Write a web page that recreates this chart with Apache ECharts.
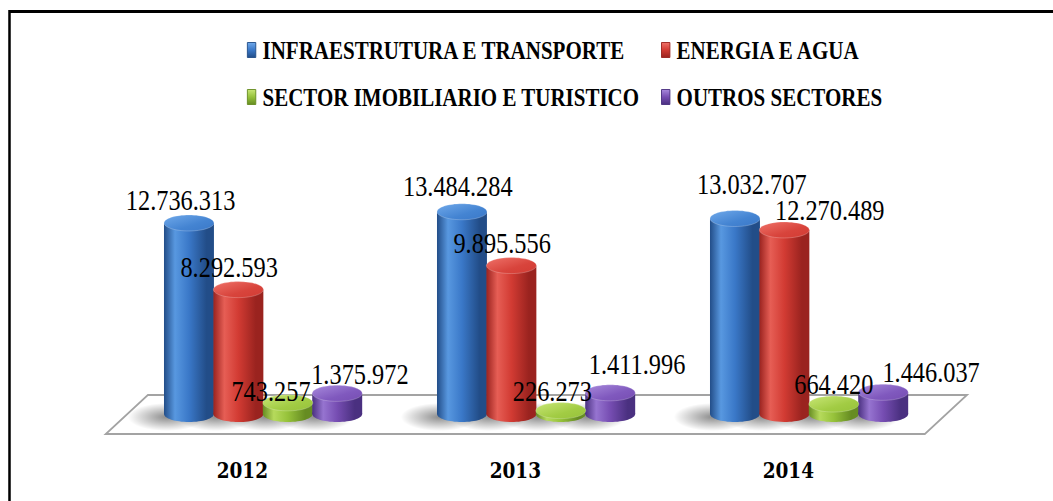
<!DOCTYPE html>
<html>
<head>
<meta charset="utf-8">
<title>Investimento por sector</title>
<script src="https://cdn.jsdelivr.net/npm/echarts/dist/echarts.min.js"></script>
<style>
  html, body { margin: 0; padding: 0; overflow: hidden; background: #fff; }
  /* the drawing is laid out on a wider stage, then condensed horizontally */
  #main { width: 1254px; height: 501px; transform: scaleX(0.84); transform-origin: 0 0; }
</style>
</head>
<body>
<div id="main"></div>
<script>
// ---- data -------------------------------------------------------------
const categories = ['2012', '2013', '2014'];
const seriesNames = [
  'INFRAESTRUTURA E TRANSPORTE',
  'ENERGIA E AGUA',
  'SECTOR IMOBILIARIO E TURISTICO',
  'OUTROS SECTORES'
];
const infraestrutura = [12736313, 13484284, 13032707];
const energia        = [8292593, 9895556, 12270489];
const imobiliario    = [743257, 226273, 664420];
const outros         = [1375972, 1411996, 1446037];
const seriesValues = [infraestrutura, energia, imobiliario, outros];

// ---- styling ----------------------------------------------------------
// small hand placements of the value labels, [dx, dy] per year
const labelNudge = [
  [[-10, 0], [-5, -3], [20, -12]],
  [[-11, 0], [-11, 0], [54, 3]],
  [[-20, 11], [-10, 3], [0, 3]],
  [[27, 3], [32, -6], [57, 2]]
];
const palette = [
  { edge: '#224d88', mid: '#3a78c8', light: '#5898e0', top: '#4484d2', topLight: '#70a9ea' },
  { edge: '#9a231f', mid: '#d23b33', light: '#e65e55', top: '#d8443c', topLight: '#ef7269' },
  { edge: '#668c22', mid: '#96c23a', light: '#b6da5c', top: '#a2cc44', topLight: '#c8e676' },
  { edge: '#4a3080', mid: '#764db2', light: '#9674d0', top: '#8059be', topLight: '#a88adc' }
];

function fmt(v) {
  return String(v).replace(/\B(?=(\d{3})+(?!\d))/g, '.');
}

function bodyGradient(p) {
  return {
    type: 'linear', x: 0, y: 0, x2: 1, y2: 0,
    colorStops: [
      { offset: 0, color: p.edge },
      { offset: 0.22, color: p.light },
      { offset: 0.5, color: p.mid },
      { offset: 0.85, color: p.edge },
      { offset: 1, color: p.edge }
    ]
  };
}
function topGradient(p) {
  return {
    type: 'linear', x: 0, y: 0, x2: 1, y2: 1,
    colorStops: [
      { offset: 0, color: p.topLight },
      { offset: 0.6, color: p.top },
      { offset: 1, color: p.mid }
    ]
  };
}

// cylinder drawn for series k
function cylinder(k) {
  const p = palette[k];
  return function (params, api) {
    const cat = api.value(0);
    const val = api.value(1);
    const base = api.coord([cat, 0]);
    const top = api.coord([cat, val]);
    const band = api.size([1, 0])[0];
    const step = band * 0.181;
    const bw = band * 0.183;
    const rx = bw / 2, ry = 8;
    const cx = base[0] + band * 0.076 + (k - 1.5) * step;
    const baseY = base[1], topY = top[1];
    const nudge = labelNudge[k][cat];
    return {
      type: 'group',
      children: [
        {
          type: 'ellipse', z2: 0, silent: true,
          shape: { cx: cx - rx * 0.9, cy: baseY + 3, rx: rx * 1.55, ry: 14 },
          style: {
            fill: {
              type: 'radial', x: 0.5, y: 0.5, r: 0.5,
              colorStops: [
                { offset: 0, color: 'rgba(0,0,0,0.45)' },
                { offset: 1, color: 'rgba(0,0,0,0)' }
              ]
            }
          }
        },
        {
          type: 'ellipse', z2: 10,
          shape: { cx: cx, cy: baseY, rx: rx, ry: ry },
          style: { fill: bodyGradient(p) }
        },
        {
          type: 'rect', z2: 10,
          shape: { x: cx - rx, y: topY, width: bw, height: Math.max(0, baseY - topY) },
          style: { fill: bodyGradient(p) }
        },
        {
          type: 'ellipse', z2: 11,
          shape: { cx: cx, cy: topY, rx: rx, ry: ry },
          style: { fill: topGradient(p), stroke: 'rgba(255,255,255,0.25)', lineWidth: 1 }
        },
        {
          type: 'text', z2: 20,
          x: cx + nudge[0],
          y: topY - ry + nudge[1],
          style: {
            text: fmt(val),
            fill: '#000',
            fontFamily: 'Liberation Serif',
            fontSize: 29,
            align: 'center',
            verticalAlign: 'bottom'
          }
        }
      ]
    };
  };
}

// floor plane under the cylinders
function floor(params, api) {
  const cs = params.coordSys;
  const zeroY = api.coord([0, 0])[1];
  const depth = api.size([1, 0])[0] * 0.154;
  const left = cs.x, right = cs.x + cs.width;
  return {
    type: 'polygon', silent: true,
    shape: {
      points: [
        [left, zeroY + 20], [right, zeroY + 20],
        [right + depth, zeroY - 19], [left + depth, zeroY - 19]
      ]
    },
    style: { fill: '#fff', stroke: '#a3a3a3', lineWidth: 2 }
  };
}

const legendText = {
  fontFamily: 'Liberation Serif',
  fontWeight: 'bold',
  fontSize: 25,
  lineHeight: 28,
  color: '#000',
  padding: [0, 0, 0, 3]
};
function legendItem(i) {
  const p = palette[i];
  return {
    name: seriesNames[i],
    itemStyle: {
      color: {
        type: 'linear', x: 0, y: 0, x2: 0, y2: 1,
        colorStops: [
          { offset: 0, color: p.topLight },
          { offset: 0.5, color: p.mid },
          { offset: 1, color: p.edge }
        ]
      },
      borderColor: p.edge,
      borderWidth: 1
    }
  };
}

const series = [{
  type: 'custom',
  name: 'floor',
  z: 1,
  silent: true,
  renderItem: floor,
  data: [[0, 0]],
  encode: { x: 0, y: 1 }
}];
seriesValues.forEach(function (vals, k) {
  series.push({
    type: 'custom',
    name: seriesNames[k],
    z: 2,
    itemStyle: { color: palette[k].mid },
    renderItem: cylinder(k),
    data: vals.map(function (v, i) { return [i, v]; }),
    encode: { x: 0, y: 1 }
  });
});

const chart = echarts.init(document.getElementById('main'), null, { renderer: 'svg' });
chart.setOption({
  animation: false,
  backgroundColor: '#fff',
  grid: { left: 126, right: 153, top: 204, bottom: 87 },
  legend: [
    {
      orient: 'vertical', left: 289, top: 31,
      itemWidth: 10, itemHeight: 15, itemGap: 19,
      icon: 'rect', selectedMode: false,
      textStyle: legendText,
      data: [legendItem(0), legendItem(2)]
    },
    {
      orient: 'vertical', left: 782, top: 31,
      itemWidth: 10, itemHeight: 15, itemGap: 19,
      icon: 'rect', selectedMode: false,
      textStyle: legendText,
      data: [legendItem(1), legendItem(3)]
    }
  ],
  xAxis: {
    type: 'category',
    data: categories,
    axisLine: { show: false },
    axisTick: { show: false },
    splitLine: { show: false },
    axisLabel: {
      margin: 45,
      fontFamily: 'DejaVu Serif',
      fontWeight: 'bold',
      fontSize: 22,
      color: '#000'
    }
  },
  yAxis: {
    type: 'value', min: 0, max: 14000000,
    show: false, splitLine: { show: false }
  },
  graphic: [{
    type: 'rect', silent: true,
    shape: { x: 11.3, y: 11.5, width: 1400, height: 700 },
    style: { fill: 'none', stroke: '#000', lineWidth: 3 }
  }],
  series: series
});
</script>
</body>
</html>
